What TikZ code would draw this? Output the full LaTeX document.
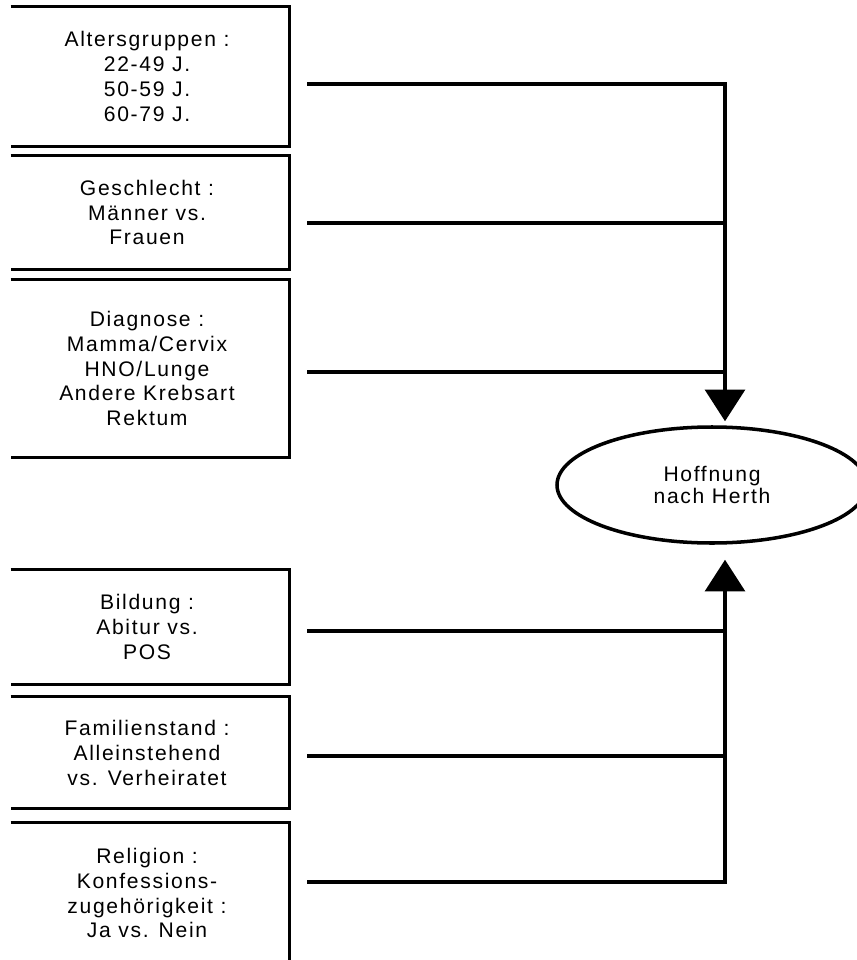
\documentclass[tikz,border=0pt]{standalone}
\usepackage{fontspec}
\setmainfont{Liberation Sans}[LetterSpace=8]
\usetikzlibrary{shapes.geometric}
\usetikzlibrary{arrows.meta}

\begin{document}
\begin{tikzpicture}[
  factor/.style={minimum width=5.68cm, inner sep=0pt, align=center, font=\fontsize{12}{14.2}\selectfont},
  frame/.style={line width=2pt},
  link/.style={line width=1.9pt},
  head/.style={-{Triangle[width=22.7pt, length=18pt]}},
  target/.style={draw, ellipse, line width=2pt, inner sep=0pt, minimum width=6.2cm, minimum height=2.32cm, align=center, font=\fontsize{12}{12.5}\selectfont}
]

\useasboundingbox (0,0) rectangle (17.12,-19.2);

% Factors on the left
\node[factor, minimum height=2.78cm] (alter) at (2.94,-1.53) {Altersgruppen :\\22-49 J.\\50-59 J.\\60-79 J.};
\node[factor, minimum height=2.26cm] (geschlecht) at (2.94,-4.25) {Geschlecht :\\Männer vs.\\Frauen};
\node[factor, minimum height=3.54cm] (diagnose) at (2.94,-7.37) {Diagnose :\\Mamma/Cervix\\HNO/Lunge\\Andere Krebsart\\Rektum};
\node[factor, minimum height=2.28cm] (bildung) at (2.94,-12.54) {Bildung :\\Abitur vs.\\POS};
\node[factor, minimum height=2.22cm] (familie) at (2.94,-15.05) {Familienstand :\\Alleinstehend\\vs. Verheiratet};
\node[factor, minimum height=2.80cm] (religion) at (2.94,-17.86) {Religion :\\Konfessions-\\zugehörigkeit :\\Ja vs. Nein};

% Open frames (no left side)
\foreach \n in {alter,geschlecht,diagnose,bildung,familie,religion} {
  \draw[frame] ([xshift=0.12cm]\n.north west) -- (\n.north east) -- (\n.south east) -- ([xshift=0.12cm]\n.south west);
}

% Outcome
\node[target] (hoffnung) at (14.24,-9.70) {Hoffnung\\nach Herth};

% Line starts and spine
\coordinate (spine) at (14.5,0);
\coordinate (s-alter) at (6.14,-1.68);
\coordinate (s-geschlecht) at (6.14,-4.46);
\coordinate (s-diagnose) at (6.14,-7.44);
\coordinate (s-bildung) at (6.14,-12.62);
\coordinate (s-familie) at (6.14,-15.12);
\coordinate (s-religion) at (6.14,-17.64);

% Connectors
\draw[link, head] (s-alter) -| ([yshift=0.08cm]spine |- hoffnung.north);
\draw[link] (s-geschlecht) -- (s-geschlecht -| spine);
\draw[link] (s-diagnose) -- (s-diagnose -| spine);
\draw[link, head] (s-religion) -| ([yshift=-0.3cm]spine |- hoffnung.south);
\draw[link] (s-bildung) -- (s-bildung -| spine);
\draw[link] (s-familie) -- (s-familie -| spine);

\end{tikzpicture}
\end{document}
